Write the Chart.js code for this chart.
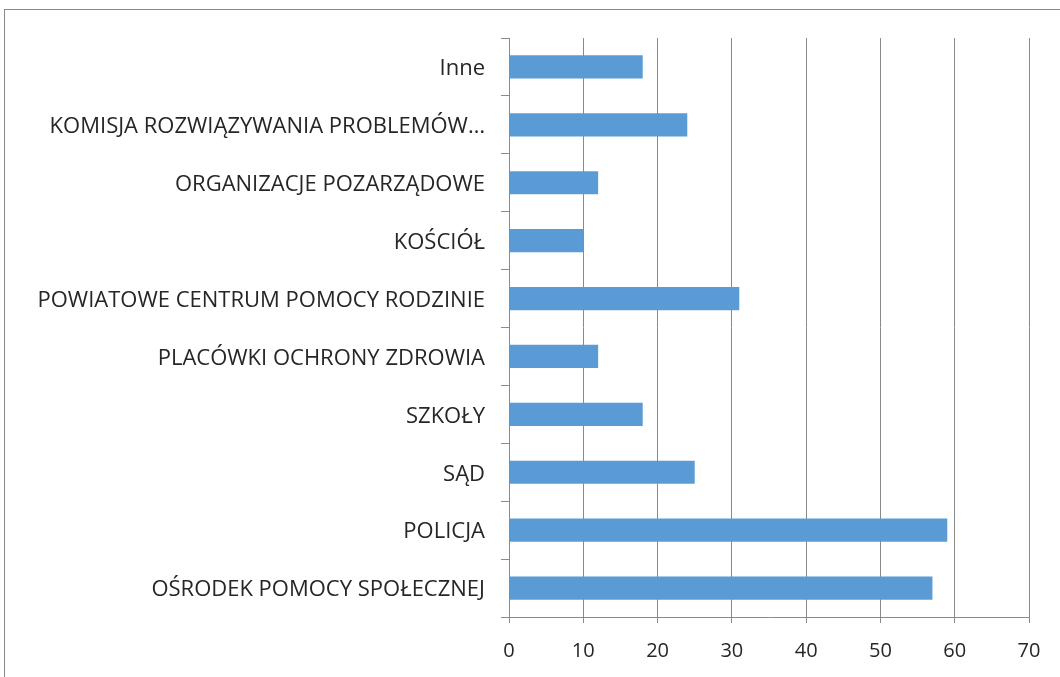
<!DOCTYPE html>
<html>
<head>
<meta charset="utf-8">
<script src="https://cdn.jsdelivr.net/npm/chart.js@4/dist/chart.umd.min.js"></script>
<style>
    html, body { margin: 0; padding: 0; background: #fff; }
    #wrap { position: relative; width: 1060px; height: 677px; overflow: hidden; }
    #frame { position: absolute; left: 4px; top: 9px; width: 1100px; height: 700px; border-left: 1px solid #8a8a8a; border-top: 1px solid #8a8a8a; }
    #chart { position: absolute; left: 0; top: 0; }
</style>
</head>
<body>
<div id="wrap">
    <div id="frame"></div>
    <canvas id="chart" width="1060" height="677"></canvas>
</div>
<script>
'use strict';

// categories top to bottom
var categories = [
    "Inne",
    "KOMISJA ROZWIĄZYWANIA PROBLEMÓW…",
    "ORGANIZACJE POZARZĄDOWE",
    "KOŚCIÓŁ",
    "POWIATOWE CENTRUM POMOCY RODZINIE",
    "PLACÓWKI OCHRONY ZDROWIA",
    "SZKOŁY",
    "SĄD",
    "POLICJA",
    "OŚRODEK POMOCY SPOŁECZNEJ"
];
var values = [18, 24, 12, 10, 31, 12, 18, 25, 59, 57];
var xTicks = [0, 10, 20, 30, 40, 50, 60, 70];

var gridColor = '#8a8a8a';
var textColor = '#262626';
var fontFamily = "'Open Sans', sans-serif";

var ctx = document.getElementById('chart');
var chart = new Chart(ctx, {
    type: 'bar',
    data: {
        labels: categories,
        datasets: [{
            label: 'Serie 1',
            data: values,
            backgroundColor: '#5b9bd5',
            borderWidth: 0,
            categoryPercentage: 1,
            barPercentage: 0.4
        }]
    },
    options: {
        indexAxis: 'y',
        responsive: false,
        animation: false,
        layout: {
            padding: { top: 38, right: 31, bottom: 0, left: 0 }
        },
        plugins: {
            legend: { display: false },
            tooltip: { enabled: false }
        },
        scales: {
            x: {
                min: 0,
                max: 70,
                afterBuildTicks: function (axis) {
                    axis.ticks = xTicks.map(function (v) { return { value: v }; });
                },
                afterFit: function (axis) {
                    axis.height = 60;
                },
                grid: {
                    color: gridColor,
                    lineWidth: 1,
                    tickLength: 6
                },
                border: { color: gridColor },
                ticks: {
                    color: textColor,
                    padding: 16,
                    font: { family: fontFamily, size: 20 }
                }
            },
            y: {
                afterFit: function (axis) {
                    axis.width = 509;
                },
                grid: {
                    drawOnChartArea: false,
                    color: gridColor,
                    tickLength: 8
                },
                border: { color: gridColor },
                ticks: {
                    color: textColor,
                    padding: 16,
                    labelOffset: 2,
                    autoSkip: false,
                    font: { family: fontFamily, size: 22 }
                }
            }
        }
    }
});
</script>
</body>
</html>
